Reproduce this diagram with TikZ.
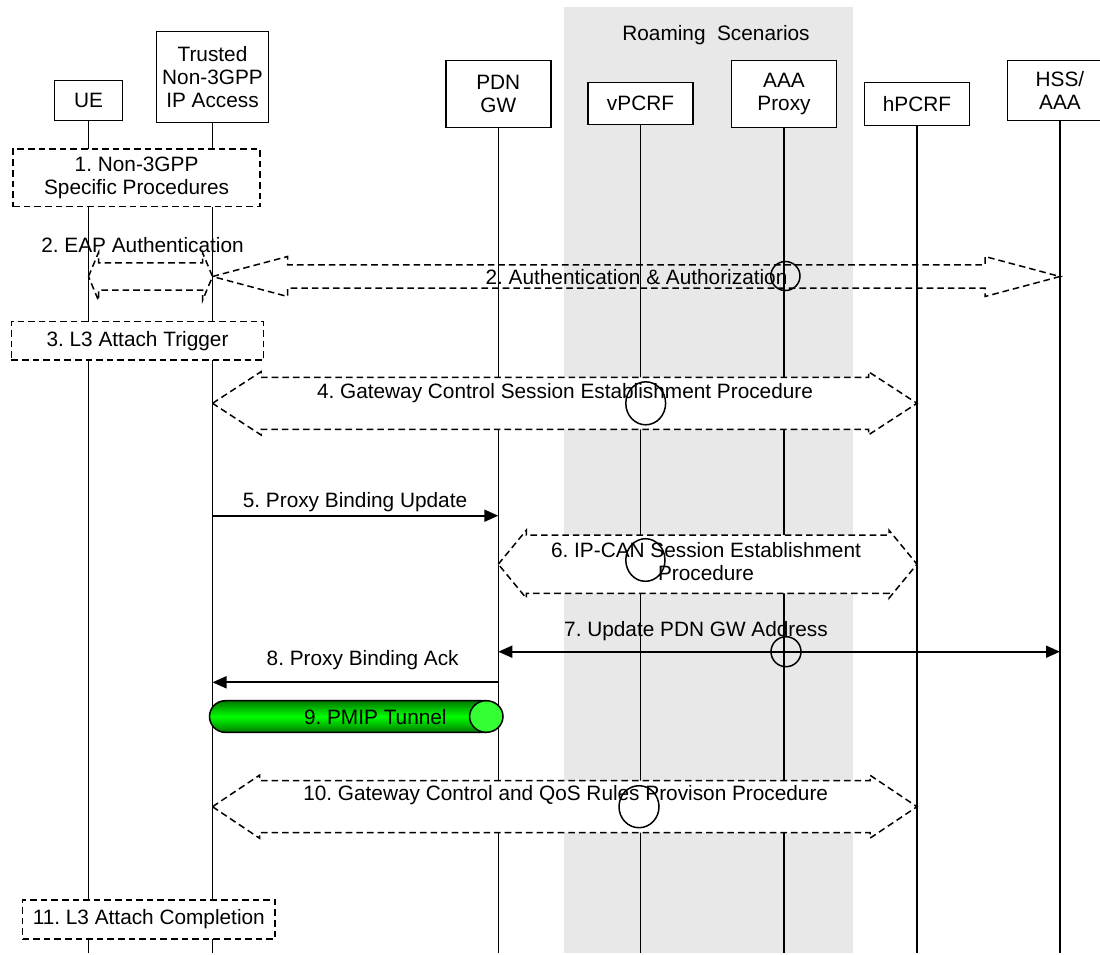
\documentclass[tikz,border=0pt]{standalone}
\usepackage{fontspec}
\setmainfont{Liberation Sans}
\usetikzlibrary{
    arrows.meta,
    calc,
    shapes.geometric
}
\definecolor{roamgray}{HTML}{E8E8E8}
\definecolor{tunnelgreen}{HTML}{00FF00}
\definecolor{tunneldark}{HTML}{007A00}
\definecolor{tunnelend}{HTML}{33FF33}
\newcommand{\sqfont}{\fontsize{10.4}{11.6}\selectfont\frenchspacing}
\tikzset{
    % --- Entity header box ---
    entity/.style = {
        rectangle, draw, fill=white, line width=0.75pt,
        minimum width=52.5pt, inner sep=0pt,
        font=\sqfont, align=center
    },
    % --- Vertical life line ---
    lifeline/.style = {
        line width=0.75pt
    },
    % --- Dashed procedure box ---
    proc box/.style = {
        rectangle, draw, fill=white, line width=0.75pt,
        dash pattern=on 3.3pt off 2pt,
        inner sep=0pt, font=\sqfont, align=center
    },
    % --- Dashed block arrow outline ---
    proc/.style = {
        line width=0.75pt, dash pattern=on 3.3pt off 2pt
    },
    % --- Text on a step ---
    step label/.style = {
        inner sep=0pt, font=\sqfont, align=center
    },
    % --- Message arrow ---
    msg/.style = {
        -{Triangle[length=7pt,width=6pt]}, line width=0.85pt
    },
    both msg/.style = {
        {Triangle[length=7pt,width=6pt]}-{Triangle[length=7pt,width=6pt]},
        line width=0.85pt
    },
    % --- Line crossing circle ---
    jump/.style = {
        ellipse, draw, line width=0.75pt, inner sep=0pt
    },
    % --- PMIP tunnel ---
    tunnel body/.style = {
        draw, line width=0.75pt, rounded corners=7.9pt,
        top color=tunneldark, bottom color=tunneldark, middle color=tunnelgreen
    },
    tunnel end/.style = {
        ellipse, draw, fill=tunnelend, line width=0.75pt, inner sep=0pt,
        minimum width=16.7pt, minimum height=15.8pt
    }
}
% double headed block arrow: [options]{left tip}{right tip}{head length}{shaft half}{head half}
\newcommand{\procarrow}[6][]{%
    \draw[proc,#1] (#2) -- ($(#2)+(#4,-#6)$) -- ($(#2)+(#4,-#5)$)
        -- ($(#3)+(-#4,-#5)$) -- ($(#3)+(-#4,-#6)$) -- (#3)
        -- ($(#3)+(-#4,#6)$) -- ($(#3)+(-#4,#5)$)
        -- ($(#2)+(#4,#5)$) -- ($(#2)+(#4,#6)$) -- cycle;}

\begin{document}
\begin{tikzpicture}[x=0.5pt, y=-0.5pt, >=Stealth]

\useasboundingbox (0,0) rectangle (1100,955);
\clip (0,0) rectangle (1100,955);

% ---------------------------------------------------------
% Roaming area
% ---------------------------------------------------------
\fill[roamgray] (564.3,6.7) rectangle (852.7,953);
\node[step label] (roam) at (716,35) {Roaming\ \ Scenarios};

% ---------------------------------------------------------
% Entities
% ---------------------------------------------------------
\node[entity, minimum width=33.9pt, minimum height=20pt] (ue) at (88.5,100.7) {UE};
\node[entity, minimum width=56pt, minimum height=45.5pt] (trusted) at (212.5,77.2) {Trusted\\Non-3GPP\\IP Access};
\node[entity, minimum height=33.3pt] (pdn) at (498.3,94) {PDN\\GW};
\node[entity, minimum height=21pt] (vpcrf) at (640.5,103.3) {vPCRF};
\node[entity, minimum height=33.3pt] (aaa) at (784,94) {AAA\\Proxy};
\node[entity, minimum height=21.5pt] (hpcrf) at (917,103.8) {hPCRF};
\node[entity, minimum height=30pt] (hss) at (1060,90.7) {HSS/\\AAA};

\coordinate (bottom) at (0,953);
\foreach \ent in {ue, trusted, pdn, vpcrf, aaa, hpcrf, hss} {
    \draw[lifeline] (\ent.south) -- (\ent |- bottom);
}

% step heights
\coordinate (s2) at (0,276.5);
\coordinate (s4) at (0,403.3);
\coordinate (s5) at (0,515.7);
\coordinate (s6) at (0,564.2);
\coordinate (s7) at (0,651.7);
\coordinate (s8) at (0,682.3);
\coordinate (s9) at (0,716.5);
\coordinate (s10) at (0,806.7);

% ---------------------------------------------------------
% 1-3
% ---------------------------------------------------------
\node[proc box, minimum width=123.4pt, minimum height=28.9pt] (box1) at (136.6,177.8) {1. Non-3GPP\\Specific Procedures};

\node[step label] (lbl2a) at (142.5,245) {2. EAP Authentication};
\procarrow{ue |- s2}{trusted |- s2}{10}{13.7}{24}
\procarrow{trusted |- s2}{hss |- s2}{75}{11.7}{20}
\node[step label] (lbl2b) at (636.5,276.7) {2. Authentication \& Authorization};
\node[jump, minimum width=14.6pt, minimum height=14.5pt] (j2) at (785.4,276) {};

\node[proc box, minimum width=126.1pt, minimum height=19.2pt] (box3) at (137.5,340.8) {3. L3 Attach Trigger};

% ---------------------------------------------------------
% 4-6
% ---------------------------------------------------------
\procarrow[fill=white]{trusted |- s4}{hpcrf |- s4}{48.5}{26}{31.6}
\node[step label] (lbl4) at (565,393.3) {4. Gateway Control Session Establishment Procedure};
\node[jump, minimum width=19.9pt, minimum height=21.5pt] (j4) at (645.7,403.3) {};

\draw[msg] (trusted |- s5) -- (pdn |- s5);
\node[step label] (lbl5) at (355,501.7) {5. Proxy Binding Update};

\procarrow[fill=white]{pdn |- s6}{hpcrf |- s6}{28}{29.2}{34}
\node[step label] (lbl6) at (706,561.7) {6. IP-CAN Session Establishment\\Procedure};
\node[jump, minimum width=19.6pt, minimum height=21.3pt] (j6) at (645.4,560) {};

% ---------------------------------------------------------
% 7-9
% ---------------------------------------------------------
\draw[both msg] (pdn |- s7) -- (hss |- s7);
\node[step label] (lbl7) at (696,630.7) {7. Update PDN GW Address};
\node[jump, minimum width=15pt, minimum height=15pt] (j7) at (786,651.7) {};

\draw[msg] (pdn |- s8) -- (trusted |- s8);
\node[step label] (lbl8) at (362.7,660) {8. Proxy Binding Ack};

\path[tunnel body] ($(pdn |- s9)+(-12,-15.8)$) -- ($(trusted |- s9)+(-3,-15.8)$)
    -- ($(trusted |- s9)+(-3,15.8)$) -- ($(pdn |- s9)+(-12,15.8)$);
\node[step label] (lbl9) at (375.3,716.7) {9. PMIP Tunnel};
\node[tunnel end] (tun9) at ($(pdn |- s9)+(-12,0)$) {};

% ---------------------------------------------------------
% 10-11
% ---------------------------------------------------------
\procarrow[fill=white]{trusted |- s10}{hpcrf |- s10}{47}{26}{31.5}
\node[step label] (lbl10) at (565.7,795) {10. Gateway Control and QoS Rules Provison Procedure};
\node[jump, minimum width=20pt, minimum height=21pt] (j10) at (639,806.7) {};

\node[proc box, minimum width=126.3pt, minimum height=19.5pt] (box11) at (148.8,919.5) {11. L3 Attach Completion};

\end{tikzpicture}
\end{document}
